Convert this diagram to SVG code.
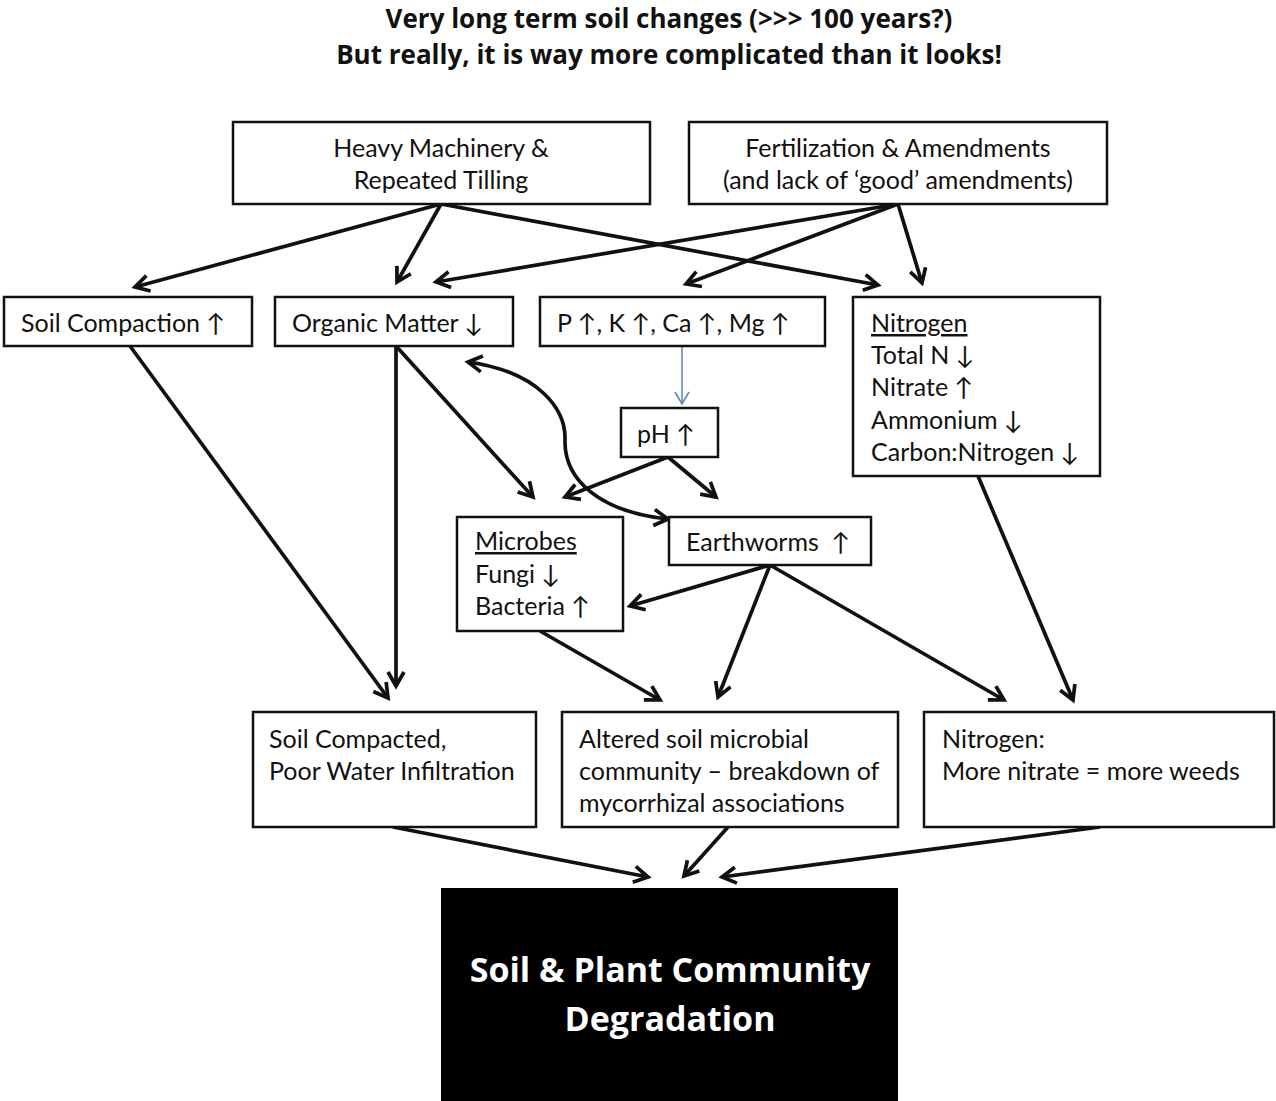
<svg xmlns="http://www.w3.org/2000/svg" width="1276" height="1101" viewBox="0 0 1276 1101">
<style>
.box{fill:#fff;stroke:#111;stroke-width:2.5}
.t{font-family:Lato,"Open Sans",sans-serif;font-size:25px;fill:#111}
.c{text-anchor:middle}
.title{font-family:"Open Sans",Lato,sans-serif;font-size:26px;font-weight:bold;fill:#111;text-anchor:middle}
.big{font-family:"Open Sans",Lato,sans-serif;font-size:34px;font-weight:bold;fill:#fff;text-anchor:middle}
.e{fill:none;stroke:#111;stroke-width:3.7;marker-end:url(#ah)}
</style>
<defs>
<marker id="ah" markerUnits="userSpaceOnUse" markerWidth="24" markerHeight="24" refX="16" refY="10" orient="auto">
<path d="M2,2 L16,10 L2,18" fill="none" stroke="#111" stroke-width="3.7" stroke-linejoin="miter"/>
</marker>
<marker id="ahs" markerUnits="userSpaceOnUse" markerWidth="24" markerHeight="24" refX="16" refY="10" orient="auto-start-reverse">
<path d="M2,2 L16,10 L2,18" fill="none" stroke="#111" stroke-width="3.7"/>
</marker>
<marker id="ahb" markerUnits="userSpaceOnUse" markerWidth="24" markerHeight="24" refX="14" refY="10" orient="auto">
<path d="M2,3 L14,10 L2,17" fill="none" stroke="#5b86b8" stroke-width="1.5"/>
</marker>
</defs>
<rect width="1276" height="1101" fill="#fff"/>
<text class="title" x="669" y="28">Very long term soil changes (&gt;&gt;&gt; 100 years?)</text>
<text class="title" x="669" y="64">But really, it is way more complicated than it looks!</text>

<g id="connectors">
<line class="e" x1="441" y1="204" x2="135" y2="287"/>
<line class="e" x1="441" y1="204" x2="397" y2="282"/>
<line class="e" x1="441" y1="204" x2="878" y2="285"/>
<line class="e" x1="898" y1="204" x2="436" y2="282"/>
<line class="e" x1="898" y1="204" x2="686" y2="284"/>
<line class="e" x1="898" y1="204" x2="922" y2="283"/>
<line class="e" x1="130" y1="346" x2="388" y2="698"/>
<line class="e" x1="396" y1="346" x2="396" y2="686"/>
<line class="e" x1="396" y1="346" x2="533" y2="497"/>
<path d="M468,362 C540,372 566,410 565,440 C564,480 600,512 668,519" fill="none" stroke="#111" stroke-width="3.7" marker-start="url(#ahs)" marker-end="url(#ah)"/>
<line x1="682" y1="346" x2="682" y2="404" stroke="#5b86b8" stroke-width="1.5" marker-end="url(#ahb)"/>
<line class="e" x1="668" y1="457" x2="565" y2="497"/>
<line class="e" x1="668" y1="457" x2="716" y2="497"/>
<line class="e" x1="770" y1="565" x2="630" y2="606"/>
<line class="e" x1="770" y1="565" x2="718" y2="697"/>
<line class="e" x1="770" y1="565" x2="1004" y2="700"/>
<line class="e" x1="540" y1="631" x2="660" y2="700"/>
<line class="e" x1="978" y1="476" x2="1073" y2="700"/>
<line class="e" x1="393" y1="827" x2="648" y2="877"/>
<line class="e" x1="728" y1="827" x2="684" y2="876"/>
<line class="e" x1="1100" y1="827" x2="722" y2="877"/>
</g>

<g id="heavy"><rect class="box" x="233" y="122" width="417" height="82"/>
<text class="t c" x="441" y="157">Heavy Machinery &amp;</text><text class="t c" x="441" y="189">Repeated Tilling</text></g>
<g id="fert"><rect class="box" x="689" y="122" width="418" height="82"/>
<text class="t c" x="898" y="157">Fertilization &amp; Amendments</text><text class="t c" x="898" y="189">(and lack of ‘good’ amendments)</text></g>
<g id="soilcomp"><rect class="box" x="4" y="297" width="248" height="49"/>
<text class="t" x="21" y="332">Soil Compaction ↑</text></g>
<g id="om"><rect class="box" x="275" y="297" width="238" height="49"/>
<text class="t" x="292" y="332">Organic Matter ↓</text></g>
<g id="pk"><rect class="box" x="540" y="297" width="285" height="49"/>
<text class="t" x="557" y="332">P ↑, K ↑, Ca ↑, Mg ↑</text></g>
<g id="nitro"><rect class="box" x="853" y="297" width="247" height="179"/>
<text class="t" x="871" y="332" text-decoration="underline">Nitrogen</text>
<text class="t" x="871" y="364">Total N ↓</text>
<text class="t" x="871" y="396">Nitrate ↑</text>
<text class="t" x="871" y="429">Ammonium ↓</text>
<text class="t" x="871" y="461">Carbon:Nitrogen ↓</text></g>
<g id="ph"><rect class="box" x="621" y="408" width="97" height="49"/>
<text class="t" x="637" y="443">pH ↑</text></g>
<g id="microbes"><rect class="box" x="457" y="517" width="166" height="114"/>
<text class="t" x="475" y="550" text-decoration="underline">Microbes</text>
<text class="t" x="475" y="583">Fungi ↓</text>
<text class="t" x="475" y="615">Bacteria ↑</text></g>
<g id="earthworms"><rect class="box" x="669" y="517" width="202" height="48"/>
<text class="t" x="686" y="551" xml:space="preserve">Earthworms  ↑</text></g>
<g id="compacted"><rect class="box" x="253" y="712" width="283" height="115"/>
<text class="t" x="269" y="748">Soil Compacted,</text><text class="t" x="269" y="780">Poor Water Infiltration</text></g>
<g id="altered"><rect class="box" x="562" y="712" width="336" height="115"/>
<text class="t" x="579" y="748">Altered soil microbial</text><text class="t" x="579" y="780">community – breakdown of</text><text class="t" x="579" y="812">mycorrhizal associations</text></g>
<g id="nweeds"><rect class="box" x="924" y="712" width="350" height="115"/>
<text class="t" x="942" y="748">Nitrogen:</text><text class="t" x="942" y="780">More nitrate = more weeds</text></g>
<g id="degradation"><rect x="441" y="888" width="457" height="215" fill="#000"/>
<text class="big" x="670" y="982">Soil &amp; Plant Community</text><text class="big" x="670" y="1031">Degradation</text></g>
</svg>
